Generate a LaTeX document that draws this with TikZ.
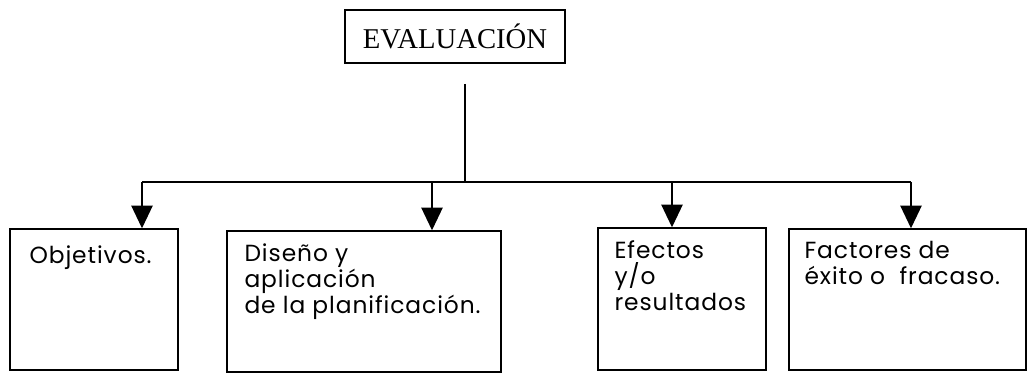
\documentclass[tikz,border=0pt]{standalone}
\usepackage{fontspec}
\setmainfont{Liberation Serif}
\newfontfamily\gotica[LetterSpace=4]{Poppins}
\usetikzlibrary{arrows.meta}
\tikzset{
  caja/.style={draw, line width=1.1pt, inner sep=0pt},
  txt/.style={anchor=north west, align=left, inner sep=0pt, font=\gotica\fontsize{17.5}{19.5}\selectfont},
  flecha/.style={line width=1.1pt, -{Triangle[width=16pt,length=17pt]}}
}
\begin{document}
\begin{tikzpicture}[x=0.75pt,y=-0.75pt]
\useasboundingbox (0,0) rectangle (1028,374);
\node[caja, minimum width=220*0.75pt, minimum height=53*0.75pt, font=\fontsize{21.5}{24}\selectfont] (eval) at (455,36.5) {EVALUACIÓN};
\coordinate (tope) at (465,84);
\coordinate (bi) at (142,182);
\coordinate (bd) at (911,182);
\coordinate (cd) at (432,182);
\coordinate (ce) at (672,182);

\node[caja, minimum width=168*0.75pt, minimum height=141*0.75pt] (obj) at (94,299.5) {};
\node[caja, minimum width=274*0.75pt, minimum height=141*0.75pt] (dis) at (364,301.5) {};
\node[caja, minimum width=168*0.75pt, minimum height=142*0.75pt] (efe) at (682,299) {};
\node[caja, minimum width=237*0.75pt, minimum height=141*0.75pt] (fac) at (907.5,299.5) {};

\node[txt] (tobj) at ([shift={(20,17)}]obj.north west) {Objetivos.};
\node[txt] (tdis) at ([shift={(18,13)}]dis.north west) {Diseño y\\aplicación\\de la planificación.};
\node[txt] (tefe) at ([shift={(17,13)}]efe.north west) {Efectos\\y/o\\resultados};
\node[txt] (tfac) at ([shift={(16,13)}]fac.north west) {Factores de\\éxito o~ fracaso.};

\draw[line width=1.1pt] (tope) -- (tope |- bi);
\draw[line width=1.1pt] (bi) -- (bd);
\draw[flecha] (bi) -- (bi |- obj.north);
\draw[flecha] (cd) -- (cd |- dis.north);
\draw[flecha] (ce) -- (ce |- efe.north);
\draw[flecha] (bd) -- (bd |- fac.north);

\end{tikzpicture}
\end{document}
